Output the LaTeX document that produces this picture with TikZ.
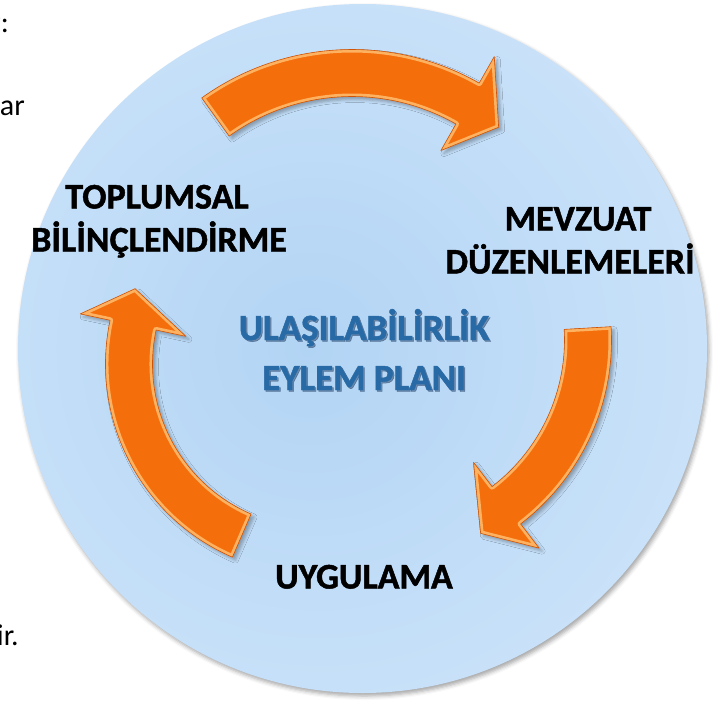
\documentclass[tikz,border=0pt]{standalone}
\usepackage{fontspec}
\setmainfont{Carlito}[BoldFont={Carlito Bold}, BoldFeatures={FakeBold=1.3}]
\usetikzlibrary{shadows.blur}
\definecolor{arrorange}{RGB}{245,110,12}
\definecolor{arrlight}{RGB}{255,196,120}
\definecolor{arrdark}{RGB}{206,84,8}
\definecolor{ctrblue}{RGB}{40,106,166}
\definecolor{ctrshadow}{RGB}{15,45,85}
\definecolor{circcenter}{RGB}{178,212,244}
\definecolor{circmid}{RGB}{200,225,249}
\definecolor{circedge}{RGB}{222,237,252}
\pgfdeclareradialshading{circshade}{\pgfpoint{-4bp}{0bp}}{color(0bp)=(circcenter); color(26bp)=(circmid); color(50bp)=(circedge); color(100bp)=(circedge)}
\tikzset{
  arrowpath/.style n args={7}{insert path={
    ({-(#4)}:{#1+#2}) arc[start angle={-(#4)}, end angle={-(#5)}, radius={#1+#2}]
    -- ({-(#5)}:{#1+#3}) -- ({-(#6)}:{#1+#7}) -- ({-(#5)}:{#1-#3}) -- ({-(#5)}:{#1-#2})
    arc[start angle={-(#5)}, end angle={-(#4)}, radius={#1-#2}] -- cycle}},
  labeltext/.style={font=\fontsize{36}{43}\selectfont\bfseries, text=black, inner sep=0pt, anchor=base},
  centertext/.style={font=\fontsize{37}{50}\selectfont\bfseries, inner sep=0pt, anchor=base},
  sidetext/.style={font=\fontsize{30}{36}\selectfont, text=black, inner sep=0pt, anchor=base east}
}
\begin{document}
\begin{tikzpicture}[x=1pt, y=-1pt]
\useasboundingbox (0,0) rectangle (719,701);
% background disc
\path[blur shadow={shadow xshift=2pt, shadow yshift=-3pt, shadow blur radius=4pt, shadow opacity=35}]
  (362.5,348.5) circle[radius=344.5];
\shade[shading=circshade] (362.5,348.5) circle[radius=344.5];
% text fragments at left border
\node[sidetext] (fragA) at (9,33) {r:};
\node[sidetext] (fragB) at (25,115) {ar};
\node[sidetext] (fragC) at (19,645) {ir.};
% curved block arrows: centre x/y, radius, tail angle, head angle, tip angle, tip offset
\foreach \cx/\cy/\R/\tl/\hd/\tp/\tof in {352/307/234/125.7/60.4/50.8/-2, 380/340/208/3.3/-52.6/-62.5/10, 316/364/187/246.6/168/157.4/9}{
  \begin{scope}[shift={(\cx,\cy)}]
  \fill[arrorange, blur shadow={shadow xshift=3pt, shadow yshift=-3pt, shadow blur radius=3pt, shadow opacity=30},
        arrowpath={\R}{23.5}{54}{\tl}{\hd}{\tp}{\tof}];
  \begin{scope}
    \clip[arrowpath={\R}{23.5}{54}{\tl}{\hd}{\tp}{\tof}];
    \draw[arrlight, line width=6pt, opacity=0.8, line join=round, arrowpath={\R}{23.5}{54}{\tl}{\hd}{\tp}{\tof}];
  \end{scope}
  \draw[arrdark, line width=0.6pt, line join=round, arrowpath={\R}{23.5}{54}{\tl}{\hd}{\tp}{\tof}];
  \end{scope}
}
% labels
\node[labeltext] (topA) at (157,208.5) {TOPLUMSAL};
\node[labeltext] (topB) at (159,251.5) {BİLİNÇLENDİRME};
\node[labeltext] (rgtA) at (578,230.5) {MEVZUAT};
\node[labeltext] (rgtB) at (570,273.5) {DÜZENLEMELERİ};
\node[labeltext] (botA) at (364,588.5) {UYGULAMA};
% centre title
\node[centertext, text=ctrshadow, opacity=0.45] (ctrAs) at (365.5,341.5) {ULAŞILABİLİRLİK};
\node[centertext, text=ctrshadow, opacity=0.45] (ctrBs) at (365.5,391.5) {EYLEM PLANI};
\node[centertext, text=ctrblue] (ctrA) at (364,340) {ULAŞILABİLİRLİK};
\node[centertext, text=ctrblue] (ctrB) at (364,390) {EYLEM PLANI};
\end{tikzpicture}
\end{document}
